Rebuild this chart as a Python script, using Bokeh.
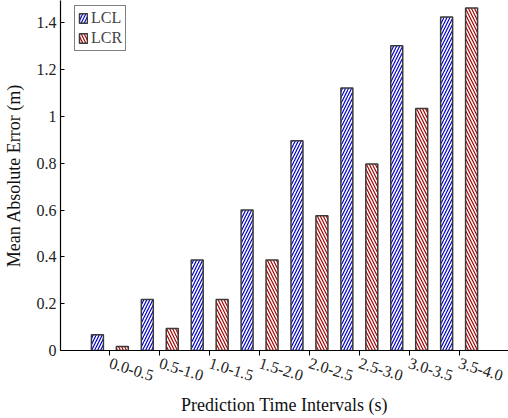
from bokeh.plotting import figure
from bokeh.models import (FactorRange, Range1d, FixedTicker, CustomJSTickFormatter,
                          ColumnDataSource, Legend, LegendItem)
from bokeh.transform import dodge
from bokeh.embed import file_html
from bokeh.resources import INLINE

intervals = ["0.0-0.5", "0.5-1.0", "1.0-1.5", "1.5-2.0",
             "2.0-2.5", "2.5-3.0", "3.0-3.5", "3.5-4.0"]
lcl = [0.067, 0.218, 0.387, 0.600, 0.896, 1.121, 1.302, 1.424]
lcr = [0.017, 0.094, 0.218, 0.387, 0.576, 0.797, 1.034, 1.463]
y_ticks = [0, 0.2, 0.4, 0.6, 0.8, 1.0, 1.2, 1.4]

src = ColumnDataSource(dict(x=intervals, lcl=lcl, lcr=lcr))

FONT = "Liberation Serif"

p = figure(width=508, height=418, output_backend="svg", toolbar_location=None,
           x_range=FactorRange(factors=intervals, range_padding=0.49,
                               range_padding_units="absolute"),
           y_range=Range1d(0, 1.495),
           min_border_left=59, min_border_right=0, min_border_top=0,
           min_border_bottom=68)

r1 = p.vbar(x=dodge("x", -0.25, range=p.x_range), top="lcl", width=0.24,
            source=src, fill_color="white", line_color="#3a3a3a", line_width=1.5,
            hatch_pattern="/", hatch_color="#0000c8", hatch_scale=6, hatch_weight=1.2)
r2 = p.vbar(x=dodge("x", 0.25, range=p.x_range), top="lcr", width=0.24,
            source=src, fill_color="white", line_color="#3a3a3a", line_width=1.5,
            hatch_pattern="\\", hatch_color="#a80000", hatch_scale=6, hatch_weight=1.2)

p.xgrid.visible = False
p.ygrid.visible = False
p.outline_line_color = None

p.yaxis.ticker = FixedTicker(ticks=y_ticks)
p.yaxis.formatter = CustomJSTickFormatter(code="return String(Math.round(tick*10)/10);")
p.yaxis.minor_tick_line_color = None
p.yaxis.major_tick_in = 4
p.yaxis.major_tick_out = 0
p.xaxis.major_tick_in = 0
p.xaxis.major_tick_out = 5
p.xaxis.major_label_orientation = -0.3

for ax in (p.xaxis, p.yaxis):
    ax.axis_line_color = "black"
    ax.axis_line_width = 1.2
    ax.major_tick_line_color = "black"
    ax.major_label_text_font = FONT
    ax.major_label_text_font_size = "16px"
    ax.major_label_text_color = "#222222"
    ax.axis_label_text_font = FONT
    ax.axis_label_text_font_size = "18px"
    ax.axis_label_text_font_style = "normal"
    ax.axis_label_text_color = "#111111"

p.xaxis.axis_label = "Prediction Time Intervals (s)"
p.yaxis.axis_label = "Mean Absolute Error (m)"
p.xaxis.major_label_standoff = 7
p.xaxis.axis_label_standoff = 6
p.yaxis.axis_label_standoff = 10
p.yaxis.major_label_standoff = 4

legend = Legend(items=[LegendItem(label="LCL", renderers=[r1]),
                       LegendItem(label="LCR", renderers=[r2])],
                location=(14, 299))
legend.label_text_font = FONT
legend.label_text_font_size = "16px"
legend.glyph_width = 10
legend.glyph_height = 12
legend.label_height = 16
legend.label_standoff = 3
legend.padding = 3
legend.spacing = 2
legend.margin = 0
legend.border_line_color = "black"
legend.border_line_width = 1
p.add_layout(legend, "center")

open("out.html", "w").write(file_html(p, INLINE))
